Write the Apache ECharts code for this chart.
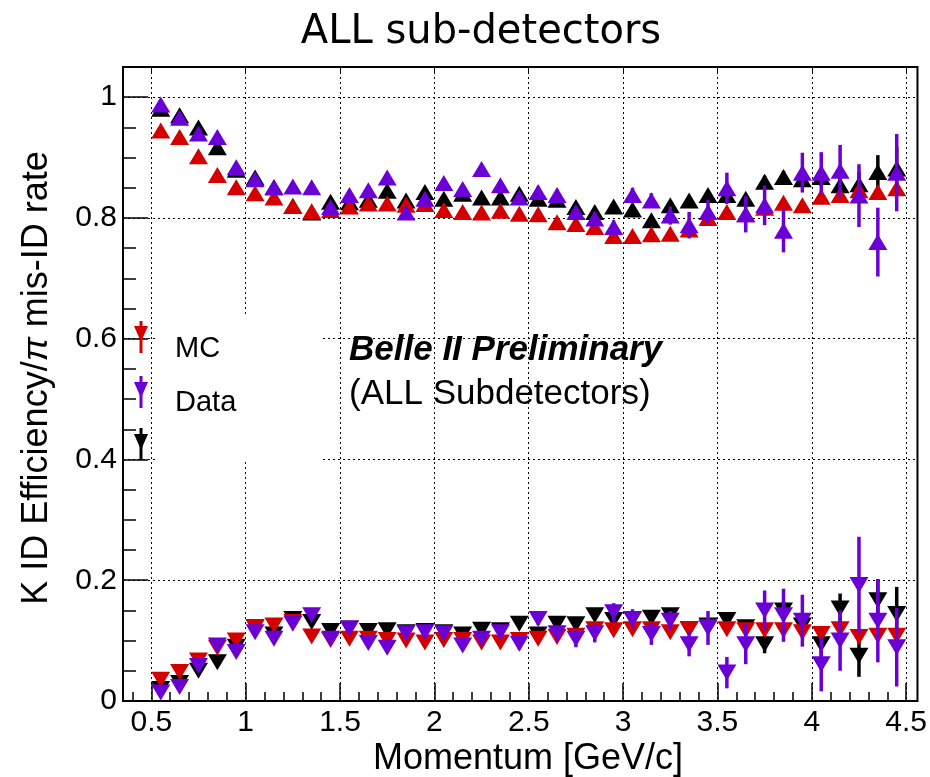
<!DOCTYPE html>
<html lang="en">
<head>
<meta charset="utf-8">
<title>ALL sub-detectors</title>
<script src="https://cdn.jsdelivr.net/npm/echarts@6/dist/echarts.min.js"></script>
</head>
<body style="margin:0; background:#fff;">
<div id="main" style="width:930px; height:777px;"></div>
<script>
// momentum bin centres [GeV/c]
const momentum = [0.55, 0.65, 0.75, 0.85, 0.95, 1.05, 1.15, 1.25, 1.35, 1.45,
                  1.55, 1.65, 1.75, 1.85, 1.95, 2.05, 2.15, 2.25, 2.35, 2.45,
                  2.55, 2.65, 2.75, 2.85, 2.95, 3.05, 3.15, 3.25, 3.35, 3.45,
                  3.55, 3.65, 3.75, 3.85, 3.95, 4.05, 4.15, 4.25, 4.35, 4.45];

// K efficiency (upward triangles)
const effMC = [0.945, 0.934, 0.902, 0.871, 0.851, 0.841, 0.834, 0.820, 0.811, 0.813,
               0.819, 0.824, 0.824, 0.822, 0.823, 0.813, 0.810, 0.809, 0.812, 0.807,
               0.806, 0.793, 0.790, 0.785, 0.770, 0.770, 0.773, 0.774, 0.781, 0.800,
               0.810, 0.806, 0.817, 0.825, 0.821, 0.835, 0.838, 0.846, 0.843, 0.849];
const effData = [0.988, 0.966, 0.940, 0.934, 0.884, 0.864, 0.851, 0.852, 0.851, 0.818,
                 0.838, 0.846, 0.867, 0.809, 0.832, 0.858, 0.848, 0.881, 0.854, 0.834,
                 0.843, 0.838, 0.810, 0.799, 0.785, 0.838, 0.829, 0.804, 0.788, 0.810,
                 0.849, 0.806, 0.821, 0.779, 0.875, 0.875, 0.878, 0.837, 0.760, 0.875];
const effDataErr = [0.008, 0.006, 0.006, 0.006, 0.006, 0.006, 0.006, 0.006, 0.006, 0.006,
                    0.006, 0.006, 0.006, 0.006, 0.006, 0.006, 0.006, 0.007, 0.007, 0.008,
                    0.009, 0.009, 0.010, 0.011, 0.011, 0.012, 0.012, 0.015, 0.022, 0.020,
                    0.026, 0.030, 0.033, 0.036, 0.033, 0.034, 0.043, 0.052, 0.057, 0.064];
const effBlack = [0.981, 0.970, 0.950, 0.917, 0.880, 0.867, 0.851, 0.820, 0.809, 0.827,
                  0.826, 0.830, 0.845, 0.829, 0.843, 0.832, 0.840, 0.834, 0.834, 0.840,
                  0.832, 0.830, 0.818, 0.810, 0.819, 0.814, 0.796, 0.821, 0.829, 0.838,
                  0.838, 0.832, 0.860, 0.868, 0.864, 0.868, 0.854, 0.856, 0.876, 0.882];
const effBlackErr = [0.004, 0.004, 0.004, 0.004, 0.004, 0.004, 0.004, 0.004, 0.004, 0.004,
                     0.004, 0.004, 0.004, 0.004, 0.004, 0.004, 0.004, 0.004, 0.004, 0.004,
                     0.004, 0.004, 0.004, 0.004, 0.004, 0.005, 0.005, 0.005, 0.005, 0.005,
                     0.005, 0.006, 0.010, 0.010, 0.012, 0.015, 0.015, 0.020, 0.028, 0.036];

// pi mis-ID rate (downward triangles)
const misMC = [0.035, 0.048, 0.067, 0.088, 0.100, 0.122, 0.125, 0.131, 0.107, 0.101,
               0.103, 0.103, 0.101, 0.100, 0.097, 0.101, 0.101, 0.097, 0.097, 0.101,
               0.103, 0.106, 0.108, 0.119, 0.117, 0.119, 0.119, 0.114, 0.119, 0.122,
               0.119, 0.117, 0.117, 0.117, 0.114, 0.111, 0.119, 0.106, 0.108, 0.108];
const misData = [0.014, 0.023, 0.058, 0.092, 0.081, 0.114, 0.103, 0.128, 0.142, 0.103,
                 0.120, 0.096, 0.088, 0.112, 0.114, 0.112, 0.092, 0.103, 0.114, 0.095,
                 0.136, 0.112, 0.103, 0.112, 0.147, 0.136, 0.111, 0.133, 0.094, 0.121,
                 0.047, 0.094, 0.150, 0.142, 0.133, 0.061, 0.100, 0.192, 0.133, 0.089];
const misDataErr = [0.004, 0.004, 0.004, 0.004, 0.004, 0.004, 0.004, 0.005, 0.005, 0.005,
                    0.005, 0.006, 0.006, 0.006, 0.006, 0.007, 0.008, 0.008, 0.008, 0.010,
                    0.010, 0.012, 0.014, 0.015, 0.015, 0.016, 0.018, 0.016, 0.020, 0.028,
                    0.026, 0.033, 0.033, 0.044, 0.043, 0.045, 0.050, 0.080, 0.069, 0.065];
const misBlack = [0.020, 0.030, 0.050, 0.064, 0.090, 0.122, 0.110, 0.136, 0.131, 0.116,
                  0.120, 0.116, 0.117, 0.114, 0.116, 0.114, 0.110, 0.118, 0.117, 0.128,
                  0.110, 0.128, 0.127, 0.142, 0.134, 0.136, 0.138, 0.142, 0.119, 0.125,
                  0.134, 0.122, 0.094, 0.150, 0.125, 0.094, 0.153, 0.075, 0.167, 0.144];
const misBlackErr = [0.003, 0.003, 0.003, 0.003, 0.003, 0.003, 0.003, 0.003, 0.003, 0.003,
                     0.003, 0.003, 0.003, 0.003, 0.003, 0.003, 0.003, 0.003, 0.003, 0.003,
                     0.003, 0.003, 0.003, 0.004, 0.004, 0.004, 0.004, 0.005, 0.008, 0.008,
                     0.008, 0.010, 0.015, 0.015, 0.018, 0.020, 0.025, 0.035, 0.035, 0.045];

// axis ticks
const xTicks = [0.5, 1, 1.5, 2, 2.5, 3, 3.5, 4, 4.5];
const yTicks = [0, 0.2, 0.4, 0.6, 0.8, 1];
const xMinor = [];
for (let v = 0.4; v < 4.56; v += 0.1) xMinor.push(+v.toFixed(2));
const yMinor = [];
for (let v = 0.05; v < 1.05; v += 0.05) yMinor.push(+v.toFixed(2));

const RED = '#d40000', VIOLET = '#6a00d6', BLACK = '#000000';
const FONT = '"Liberation Sans", Arial, sans-serif';

function pack(vals, errs) {
    return momentum.map((m, i) => [m, vals[i], errs ? errs[i] : 0]);
}

function errorBar(params, api) {
    const x = api.value(0), y = api.value(1), e = api.value(2);
    const lo = api.coord([x, y - e]);
    const hi = api.coord([x, y + e]);
    return {
        type: 'line',
        shape: { x1: lo[0], y1: lo[1], x2: hi[0], y2: hi[1] },
        style: { stroke: api.visual('color'), lineWidth: 3.5 }
    };
}

function bars(name, vals, errs, color, z) {
    return {
        name: name, type: 'custom', renderItem: errorBar,
        data: pack(vals, errs), encode: { x: 0, y: 1 },
        itemStyle: { color: color }, z: z, silent: true
    };
}

function marks(name, vals, color, down, z) {
    return {
        name: name, type: 'scatter', data: pack(vals),
        symbol: 'triangle', symbolSize: [19, 16], symbolRotate: down ? 180 : 0,
        itemStyle: { color: color, opacity: 1 }, z: z, silent: true
    };
}

const chart = echarts.init(document.getElementById('main'));

const option = {
    animation: false,
    backgroundColor: '#fff',
    grid: { left: 123, top: 67, width: 795, height: 634, show: true,
            borderColor: '#000', borderWidth: 2, backgroundColor: 'transparent' },
    xAxis: [
        { type: 'value', min: 0.35, max: 4.56, position: 'bottom',
          axisLine: { show: false },
          axisTick: { inside: true, length: 18, customValues: xTicks,
                      lineStyle: { color: '#000', width: 1.5 } },
          axisLabel: { customValues: xTicks, margin: 7, color: '#000',
                       fontFamily: FONT, fontSize: 30 },
          splitLine: { show: true, lineStyle: { color: '#000', type: [2, 3], width: 1 } } },
        { type: 'value', min: 0.35, max: 4.56, position: 'bottom',
          axisLine: { show: false },
          axisTick: { inside: true, length: 9, customValues: xMinor,
                      lineStyle: { color: '#000', width: 1.5 } },
          axisLabel: { show: false }, splitLine: { show: false } },
        { type: 'value', min: 0.35, max: 4.56, position: 'top',
          axisLine: { show: false },
          axisTick: { inside: true, length: 6, customValues: xTicks,
                      lineStyle: { color: '#000', width: 1 } },
          axisLabel: { show: false }, splitLine: { show: false } }
    ],
    yAxis: [
        { type: 'value', min: 0, max: 1.05, position: 'left',
          axisLine: { show: false },
          axisTick: { inside: true, length: 25, customValues: yTicks,
                      lineStyle: { color: '#000', width: 1.5 } },
          axisLabel: { customValues: yTicks, margin: 6, color: '#000',
                       fontFamily: FONT, fontSize: 30 },
          splitLine: { show: true, lineStyle: { color: '#000', type: [2, 3], width: 1 } } },
        { type: 'value', min: 0, max: 1.05, position: 'left',
          axisLine: { show: false },
          axisTick: { inside: true, length: 13, customValues: yMinor,
                      lineStyle: { color: '#000', width: 1.5 } },
          axisLabel: { show: false }, splitLine: { show: false } }
    ],
    graphic: [
        { type: 'text', x: 481, y: 33, z: 100,
          style: { text: 'ALL sub-detectors', textAlign: 'center', textVerticalAlign: 'middle',
                   font: '40px "DejaVu Sans", sans-serif', fill: '#000' } },
        { type: 'text', x: 528, y: 759, z: 100,
          style: { text: 'Momentum [GeV/c]', textAlign: 'center', textVerticalAlign: 'middle',
                   font: '36px ' + FONT, fill: '#000' } },
        { type: 'text', x: 37, y: 378, rotation: Math.PI / 2, z: 100,
          style: { text: 'K ID Efficiency/{i|π} mis-ID rate', textAlign: 'center', textVerticalAlign: 'middle',
                   font: '36px ' + FONT, fill: '#000',
                   rich: { i: { fontStyle: 'italic', fontFamily: FONT, fontSize: 36 } } } },
        // legend box
        { type: 'rect', shape: { x: 156, y: 316, width: 166, height: 145 }, z: 50,
          style: { fill: '#fff' } },
        { type: 'line', shape: { x1: 141, y1: 321, x2: 141, y2: 353 }, z: 51,
          style: { stroke: RED, lineWidth: 3 } },
        { type: 'polygon', shape: { points: [[134, 326], [148, 326], [141, 342]] }, z: 52,
          style: { fill: RED } },
        { type: 'line', shape: { x1: 141, y1: 376, x2: 141, y2: 408 }, z: 51,
          style: { stroke: VIOLET, lineWidth: 3 } },
        { type: 'polygon', shape: { points: [[134, 382], [148, 382], [141, 398]] }, z: 52,
          style: { fill: VIOLET } },
        { type: 'line', shape: { x1: 141, y1: 428, x2: 141, y2: 460 }, z: 51,
          style: { stroke: BLACK, lineWidth: 3 } },
        { type: 'polygon', shape: { points: [[134, 434], [148, 434], [141, 450]] }, z: 52,
          style: { fill: BLACK } },
        { type: 'text', x: 175, y: 349, z: 53,
          style: { text: 'MC', textVerticalAlign: 'middle', font: '29px ' + FONT, fill: '#000' } },
        { type: 'text', x: 175, y: 403, z: 53,
          style: { text: 'Data', textVerticalAlign: 'middle', font: '29px ' + FONT, fill: '#000' } },
        { type: 'text', x: 349, y: 350, z: 53,
          style: { text: 'Belle II Preliminary', textVerticalAlign: 'middle',
                   font: 'italic bold 35px ' + FONT, fill: '#000' } },
        { type: 'text', x: 349, y: 394, z: 53,
          style: { text: '(ALL Subdetectors)', textVerticalAlign: 'middle',
                   font: '35px ' + FONT, fill: '#000' } }
    ],
    series: [
        bars('black eff err', effBlack, effBlackErr, BLACK, 2),
        marks('black eff', effBlack, BLACK, false, 3),
        bars('black mis err', misBlack, misBlackErr, BLACK, 2),
        marks('black mis', misBlack, BLACK, true, 3),
        marks('MC eff', effMC, RED, false, 5),
        marks('MC mis', misMC, RED, true, 5),
        bars('Data eff err', effData, effDataErr, VIOLET, 6),
        marks('Data eff', effData, VIOLET, false, 7),
        bars('Data mis err', misData, misDataErr, VIOLET, 6),
        marks('Data mis', misData, VIOLET, true, 7)
    ]
};

chart.setOption(option);
</script>
</body>
</html>
